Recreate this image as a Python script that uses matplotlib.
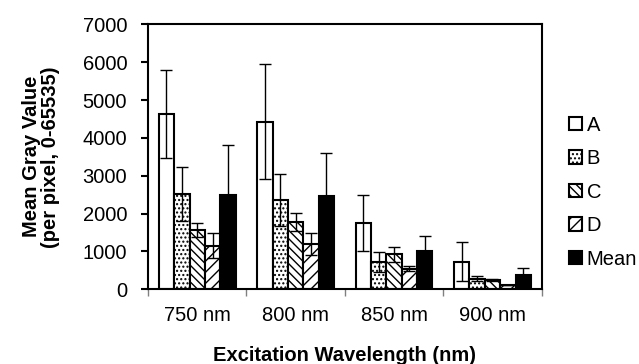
import numpy as np
import matplotlib.pyplot as plt

plt.rcParams['font.family'] = ['Liberation Sans', 'DejaVu Sans']
plt.rcParams['hatch.linewidth'] = 1.0

categories = ['750 nm', '800 nm', '850 nm', '900 nm']
series = ['A', 'B', 'C', 'D', 'Mean']

A = [4620, 4430, 1750, 730]
B = [2520, 2350, 720, 280]
C = [1560, 1780, 930, 240]
D = [1150, 1200, 545, 120]
Mean = [2490, 2460, 1020, 365]

A_err = [1160, 1520, 740, 520]
B_err = [710, 690, 260, 70]
C_err = [190, 245, 200, 30]
D_err = [330, 290, 60, 0]
Mean_err = [1320, 1150, 400, 210]

values = [A, B, C, D, Mean]
errors = [A_err, B_err, C_err, D_err, Mean_err]
faces = ['white', 'white', 'white', 'white', 'black']
hatches = [None, '....', '\\\\\\\\', '///', None]

fig = plt.figure(figsize=(6.39, 3.64), dpi=100)
ax = fig.add_axes([0.2316, 0.2052, 0.6161, 0.728])

x = np.arange(len(categories))
w = 0.156
for j in range(len(series)):
    ax.bar(x + (j - 2) * w, values[j], w, color=faces[j], edgecolor='black',
           linewidth=1.5, hatch=hatches[j], label=series[j],
           yerr=errors[j], error_kw=dict(ecolor='black', elinewidth=1, capsize=4, capthick=1))

fs = 14.5
ax.set_xlim(-0.5, 3.5)
ax.set_ylim(0, 7000)
ax.set_yticks(range(0, 7001, 1000))
ax.set_xticks(np.arange(-0.5, 4, 1))
ax.set_xticklabels([])
ax.set_xticks(x, minor=True)
ax.set_xticklabels(categories, minor=True, fontsize=fs)
ax.tick_params(axis='x', which='minor', length=0, pad=12)
ax.tick_params(axis='x', which='major', length=5, width=1, color='gray', direction='out')
ax.tick_params(axis='y', length=5, width=1.5, labelsize=fs, pad=10)
for s in ax.spines.values():
    s.set_linewidth(1.5)

ax.set_ylabel('Mean Gray Value\n(per pixel, 0-65535)', fontsize=fs, fontweight='bold', labelpad=16,
              linespacing=1.05)
ax.set_xlabel('Excitation Wavelength (nm)', fontsize=fs, fontweight='bold', labelpad=15)

ax.legend(loc='upper left', bbox_to_anchor=(0.89, 0.682), bbox_transform=fig.transFigure,
          frameon=False, fontsize=fs, handlelength=0.65, handleheight=0.65,
          handletextpad=0.25, labelspacing=0.72, borderaxespad=0, borderpad=0)

fig.savefig('out.png', dpi=100)
